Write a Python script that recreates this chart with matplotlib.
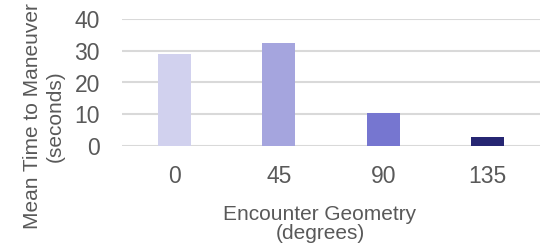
import matplotlib
matplotlib.use("Agg")
import matplotlib.pyplot as plt

# ── data ──────────────────────────────────────────────────────────────────────
geometry = ["0", "45", "90", "135"]
mean_time = [29.0, 32.4, 10.4, 2.8]
bar_colors = ["#D1D1EE", "#A5A5DE", "#7676D0", "#262672"]
y_ticks = [0, 10, 20, 30, 40]

plt.rcParams["font.family"] = ["Liberation Sans", "DejaVu Sans"]
text_color = "#595959"
grid_color = "#D9D9D9"

fig = plt.figure(figsize=(5.4, 2.45), dpi=100)
ax = fig.add_axes([122 / 540, 99 / 245, 418 / 540, 127 / 245])

x = range(len(geometry))
ax.bar(x, mean_time, width=0.314, color=bar_colors, zorder=3)

ax.set_xlim(-0.5, len(geometry) - 0.5)
ax.set_ylim(0, 40)
ax.set_yticks(y_ticks)
ax.set_xticks(list(x))
ax.set_xticklabels(geometry)

for y in y_ticks:
    ax.axhline(y, color=grid_color, lw=1.5, zorder=1)

for s in ax.spines.values():
    s.set_visible(False)
ax.tick_params(axis="both", length=0, labelsize=16.5, labelcolor=text_color)
ax.tick_params(axis="y", pad=16)
ax.tick_params(axis="x", pad=14)

# ── axis titles ───────────────────────────────────────────────────────────────
fig.text(320 / 540, 1 - 224 / 245, "Encounter Geometry\n(degrees)", ha="center",
         va="center", fontsize=15, color=text_color, linespacing=1.0)
fig.text(44 / 540, 1 - 116 / 245, "Mean Time to Maneuver\n(seconds)", ha="center",
         va="center", rotation=90, fontsize=15, color=text_color, linespacing=1.2)

fig.savefig("out.png", dpi=100)
